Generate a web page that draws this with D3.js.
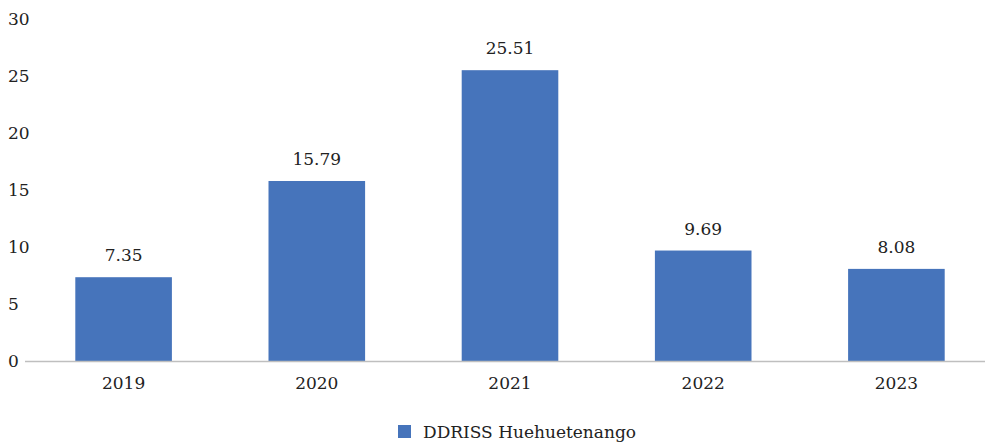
<!DOCTYPE html>
<html><head><meta charset="utf-8">
<script src="https://cdn.jsdelivr.net/npm/d3@7"></script>
<style>body{margin:0;background:#fff}svg{display:block}text{font-family:"DejaVu Serif",serif;fill:#222}</style>
</head><body>
<svg id="c" width="985" height="442"></svg>
<script>
const categories = ["2019","2020","2021","2022","2023"];
const values = [7.35,15.79,25.51,9.69,8.08];
const yTicks = [0,5,10,15,20,25,30];
const seriesName = "DDRISS Huehuetenango";

const svg = d3.select("#c");
const x = d3.scaleBand().domain(categories).range([27,993]).paddingInner(0.5).paddingOuter(0.25);
const y = d3.scaleLinear().domain([0,30]).range([361,19]);

svg.append("g").selectAll("text").data(yTicks).join("text")
  .attr("x",8).attr("y",d=>y(d)).attr("dy","0.35em").attr("font-size",17).text(d=>d);

svg.append("g").selectAll("rect").data(values).join("rect")
  .attr("x",(d,i)=>x(categories[i])).attr("width",x.bandwidth())
  .attr("y",d=>y(d)).attr("height",d=>y(0)-y(d)).attr("fill","#4674BB");

svg.append("line").attr("x1",25).attr("x2",985).attr("y1",y(0)+0.5).attr("y2",y(0)+0.5)
  .attr("stroke","#bfbfbf").attr("stroke-width",1.3);

svg.append("g").selectAll("text").data(values).join("text")
  .attr("x",(d,i)=>x(categories[i])+x.bandwidth()/2).attr("y",d=>y(d)-16)
  .attr("text-anchor","middle").attr("font-size",17).text(d=>d.toFixed(2));

svg.append("g").selectAll("text").data(categories).join("text")
  .attr("x",d=>x(d)+x.bandwidth()/2).attr("y",389)
  .attr("text-anchor","middle").attr("font-size",17).text(d=>d);

svg.append("rect").attr("x",398).attr("y",425).attr("width",13).attr("height",13).attr("fill","#4674BB");
svg.append("text").attr("x",423).attr("y",438).attr("font-size",17).text(seriesName);
</script>
</body></html>
